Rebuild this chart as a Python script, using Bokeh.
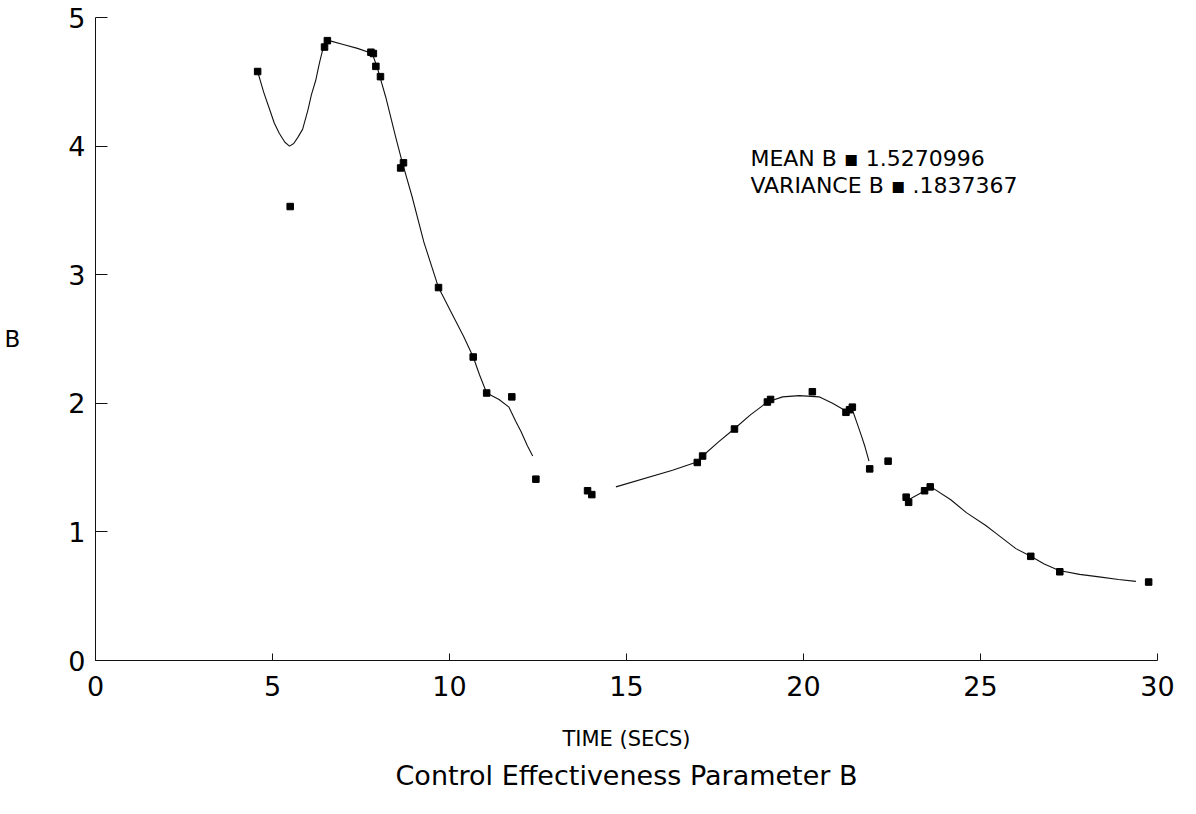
from bokeh.plotting import figure
from bokeh.models import Range1d, FixedTicker, Title, Label
from bokeh.embed import file_html
from bokeh.resources import INLINE

# ---- data ----
time_s = [4.58, 5.50, 6.47, 6.55, 7.78, 7.85, 7.92, 8.05, 8.62, 8.70,
          9.69, 10.67, 11.05, 11.76, 12.44, 13.90, 14.02, 17.00, 17.15, 18.05,
          18.98, 19.07, 20.25, 21.20, 21.30, 21.38, 21.87, 22.39, 22.90, 22.97,
          23.42, 23.58, 26.42, 27.24, 29.75]
b_vals = [4.58, 3.53, 4.77, 4.82, 4.73, 4.72, 4.62, 4.54, 3.83, 3.87,
          2.90, 2.36, 2.08, 2.05, 1.41, 1.32, 1.29, 1.54, 1.59, 1.80,
          2.01, 2.03, 2.09, 1.93, 1.95, 1.97, 1.49, 1.55, 1.27, 1.23,
          1.32, 1.35, 0.81, 0.69, 0.61]

nan = float("nan")
# fitted curve (NaN = visible gap)
curve_t = [4.58, 4.75, 4.90, 5.05, 5.19, 5.35, 5.48, 5.60, 5.72, 5.85,
           6.00, 6.10, 6.22, 6.32, 6.41, 6.50, 6.60, 7.00, 7.40, 7.82,
           7.97, 8.20, 8.48, 8.67, 8.94, 9.28, 9.69, 10.08, 10.40, 10.67,
           10.85, 11.05, 11.40, 11.68, 11.87, 12.02, 12.20, 12.35, nan,
           14.70, 16.30, 17.05, 17.15, 17.60, 18.04, 18.50, 18.98, 19.41, 19.88,
           20.44, 20.82, 21.20, 21.38, 21.52, 21.62, 21.74, 21.85, nan,
           22.97, 23.30, 23.60, 24.16, 24.60, 25.15, 25.43, 26.00, 26.42, 26.80,
           27.22, 27.80, 28.35, 28.90, 29.39]
curve_b = [4.58, 4.42, 4.30, 4.18, 4.10, 4.03, 4.00, 4.02, 4.07, 4.13,
           4.28, 4.40, 4.51, 4.64, 4.74, 4.80, 4.82, 4.79, 4.76, 4.72,
           4.60, 4.38, 4.07, 3.87, 3.61, 3.25, 2.90, 2.69, 2.52, 2.36,
           2.22, 2.08, 2.03, 1.97, 1.86, 1.78, 1.67, 1.59, nan,
           1.35, 1.48, 1.55, 1.59, 1.70, 1.80, 1.91, 2.01, 2.05, 2.06,
           2.05, 2.00, 1.94, 1.95, 1.84, 1.76, 1.66, 1.55, nan,
           1.25, 1.30, 1.35, 1.25, 1.15, 1.05, 0.99, 0.87, 0.81, 0.75,
           0.70, 0.67, 0.65, 0.63, 0.615]

x_ticks = [0, 5, 10, 15, 20, 25, 30]
y_ticks = [0, 1, 2, 3, 4, 5]
title_text = "Control Effectiveness Parameter B"
x_label = "TIME (SECS)"
y_label = "B"
stats_lines = ["MEAN B \u25aa 1.5270996", "VARIANCE B \u25aa .1837367"]

FONT = "DejaVu Sans"
INK = "#111111"

p = figure(width=1180, height=798,
           x_range=Range1d(0, 30), y_range=Range1d(0, 5),
           output_backend="svg", toolbar_location=None,
           min_border_left=95, min_border_right=23,
           min_border_top=17, min_border_bottom=138)
p.outline_line_color = None
p.grid.visible = False
p.background_fill_color = "white"
p.border_fill_color = "white"

# axes
for ax in (p.xaxis[0], p.yaxis[0]):
    ax.axis_line_color = INK
    ax.axis_line_width = 1
    ax.major_tick_line_color = INK
    ax.minor_tick_line_color = None
    ax.major_tick_out = 0
    ax.major_label_text_font = FONT
    ax.major_label_text_font_size = "27px"
    ax.major_label_text_color = "black"
    ax.axis_label_text_font = FONT
    ax.axis_label_text_font_style = "normal"
    ax.axis_label_text_color = "black"

p.xaxis.ticker = FixedTicker(ticks=x_ticks)
p.xaxis.major_tick_in = 7
p.xaxis.major_label_standoff = 15
p.xaxis.axis_label = x_label
p.xaxis.axis_label_text_font_size = "21px"
p.xaxis.axis_label_standoff = 28

p.yaxis.ticker = FixedTicker(ticks=y_ticks)
p.yaxis.major_tick_in = 12
p.yaxis.major_label_standoff = 10
p.yaxis.axis_label = y_label
p.yaxis.axis_label_orientation = "horizontal"
p.yaxis.axis_label_text_font_size = "23px"
p.yaxis.axis_label_standoff = 45

# fitted curve and data points
p.line(curve_t, curve_b, line_color=INK, line_width=1.1)
p.scatter(time_s, b_vals, marker="square", size=6.5, color="black")

# statistics annotation
for i, txt in enumerate(stats_lines):
    p.add_layout(Label(x=18.5, y=3.90 - 0.21 * i, text=txt,
                       text_font=FONT, text_font_size="22px",
                       text_baseline="middle", text_color="black"))

p.add_layout(Title(text=title_text, align="center", text_font=FONT,
                   text_font_size="27px", text_font_style="normal",
                   text_color="black", standoff=8), "below")

open("out.html", "w").write(file_html(p, INLINE))
